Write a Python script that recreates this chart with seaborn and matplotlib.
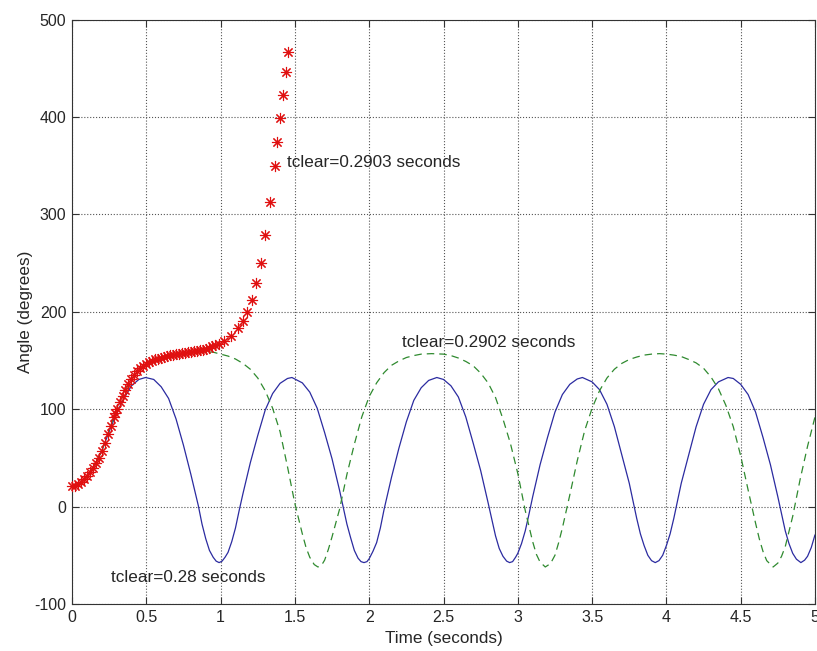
# Rotor angle swing curves for three fault clearing times
import seaborn as sns
import matplotlib
matplotlib.use("Agg")
import matplotlib.pyplot as plt
import pandas as pd

# tclear = 0.28 s (stable, blue solid)
blue_t = [0.0, 0.05, 0.1, 0.15, 0.2, 0.25, 0.3, 0.35, 0.4, 0.45, 0.495, 0.55, 0.6, 0.65, 0.7,
          0.75, 0.8, 0.85, 0.875, 0.9, 0.925, 0.95, 0.97, 0.99, 1.01, 1.03, 1.05, 1.075, 1.1,
          1.125, 1.15, 1.2, 1.25, 1.3, 1.35, 1.4, 1.45,
          1.48, 1.55, 1.6, 1.65, 1.7, 1.75, 1.8, 1.85, 1.875, 1.9, 1.925, 1.945, 1.965, 1.985,
          2.0, 2.025, 2.05, 2.075, 2.1, 2.15, 2.2,
          2.25, 2.3, 2.35, 2.4, 2.455, 2.5, 2.55, 2.6, 2.65, 2.7, 2.75, 2.8, 2.85, 2.875, 2.9,
          2.925, 2.945, 2.965, 2.985, 3.0, 3.025, 3.05, 3.075, 3.1, 3.15, 3.2, 3.25, 3.3, 3.35,
          3.4, 3.435, 3.5, 3.55, 3.6, 3.65, 3.7, 3.75, 3.8, 3.825, 3.85, 3.875, 3.9, 3.925,
          3.95, 3.975, 4.0, 4.025, 4.05, 4.1, 4.15, 4.2, 4.25, 4.3, 4.35, 4.415,
          4.45, 4.5, 4.55, 4.6, 4.65, 4.7, 4.75, 4.8, 4.825, 4.85, 4.875, 4.905, 4.93, 4.95,
          4.975, 5.0]
blue_v = [21, 24, 31, 42, 57, 77, 96, 111, 124, 130.5, 132.5, 130.5, 123, 111, 90,
          63, 33, 1, -18, -33, -45, -52, -56, -57.5, -56, -52, -47, -36, -22,
          -4, 13, 45, 73, 99, 116, 126.5, 131.5,
          132.5, 127, 117.5, 101, 76, 49, 17, -18, -32, -45, -53, -56.5, -57.5, -56.5,
          -53.5, -46, -37, -22, -3, 30, 60,
          87, 109, 122, 129.5, 132.5, 130.5, 124, 112.5, 92, 65, 37, 4, -30, -43, -51,
          -56, -57.5, -56.5, -52, -48, -38, -25, -8, 10, 43, 71, 97, 115, 125.5,
          131, 132.5, 128, 120, 105, 82, 53, 24, -12, -28, -40, -50, -55.5, -57.5,
          -55.5, -50, -40, -28, -12, 24, 53, 82, 105, 120, 128, 132.5,
          131.5, 125.5, 115, 97, 71, 43, 10, -25, -38, -48, -54, -57.5, -55, -51,
          -42, -29]

# tclear = 0.2902 s (marginally stable, green dashed)
green_t = [0.0, 0.05, 0.1, 0.15, 0.2, 0.25, 0.3, 0.35, 0.4, 0.45, 0.5, 0.55, 0.6, 0.65, 0.7,
           0.75, 0.8, 0.85, 0.9, 0.95, 1.0, 1.05, 1.1, 1.15, 1.2, 1.25, 1.3, 1.35, 1.4, 1.45,
           1.5, 1.55, 1.575, 1.6, 1.63, 1.655, 1.68, 1.7, 1.725, 1.75, 1.8, 1.85, 1.9, 1.95,
           2.0, 2.05, 2.1, 2.15, 2.2,
           2.25, 2.3, 2.35, 2.42, 2.5, 2.55, 2.6, 2.65, 2.7, 2.75, 2.8, 2.85, 2.9, 2.95, 3.0,
           3.05, 3.1, 3.125, 3.15, 3.185, 3.22, 3.25, 3.275, 3.3, 3.35, 3.4, 3.45, 3.5, 3.55,
           3.6, 3.65, 3.7, 3.75,
           3.8, 3.85, 3.9, 3.954, 4.0, 4.05, 4.1, 4.15, 4.2, 4.25, 4.3, 4.35, 4.4, 4.45, 4.5,
           4.55, 4.6, 4.625, 4.65, 4.675, 4.718, 4.75, 4.775, 4.8, 4.85, 4.9, 4.95, 5.0]
green_v = [21, 24, 31, 42.5, 57, 78.5, 100, 117, 131, 140.5, 146.5, 150, 153, 155, 156.5,
           157.5, 158.5, 159, 159, 158.5, 156.5, 154.5, 151.5, 147, 141, 132, 119, 101, 77, 41,
           3, -28, -42, -52, -59.5, -62, -60, -55, -44, -31, -3, 33, 64, 92,
           113, 127, 137.5, 145, 149.5,
           153, 155, 156.5, 157, 156.5, 155, 152.5, 149, 144.5, 137, 127, 112, 90, 65, 34,
           -4, -36, -49, -57, -62, -58.5, -50, -37, -22, 12, 47, 78, 101, 119,
           132, 141, 147, 151,
           153.5, 155.5, 156.5, 157, 156.5, 155.5, 154, 151, 147.5, 142, 133, 121, 104, 82, 52,
           17, -17, -33, -46, -55.5, -62, -58, -51, -41, -10, 28, 62, 92]

# tclear = 0.2903 s (unstable, red asterisks)
red_t = [0.0, 0.02, 0.04, 0.06, 0.08, 0.1, 0.12, 0.14, 0.16, 0.18, 0.2, 0.22, 0.24, 0.26,
         0.28, 0.29, 0.3, 0.32, 0.34, 0.36, 0.38, 0.4, 0.42, 0.44, 0.46, 0.48, 0.5, 0.52,
         0.54, 0.56, 0.58, 0.6, 0.62, 0.64, 0.66, 0.68, 0.7, 0.72, 0.74, 0.76, 0.78, 0.8,
         0.82, 0.84, 0.86, 0.88, 0.9, 0.92, 0.94, 0.96, 0.99, 1.024, 1.073, 1.118, 1.15,
         1.18, 1.21, 1.237, 1.27, 1.30, 1.333, 1.364, 1.382, 1.398, 1.42, 1.438, 1.454]
red_v = [21, 21.5, 23, 25, 28, 31, 35, 40, 45, 50, 57, 65, 74, 83,
         92, 96, 100, 107, 114, 120, 126, 131, 135, 139, 142, 144.5, 146.5, 148,
         149.5, 151, 152, 153, 154, 155, 155.5, 156, 156.5, 157, 157.5, 158, 158.5, 159,
         159.5, 160, 160.5, 161, 162, 163, 164.5, 165.5, 167, 169.5, 175, 183, 190.5,
         200, 212.5, 229.5, 250, 278.5, 312.5, 350, 374, 399, 423, 446, 467]

x_ticks = [0, 0.5, 1, 1.5, 2, 2.5, 3, 3.5, 4, 4.5, 5]
x_tick_labels = ["0", "0.5", "1", "1.5", "2", "2.5", "3", "3.5", "4", "4.5", "5"]
y_ticks = [-100, 0, 100, 200, 300, 400, 500]

blue = pd.DataFrame({"t": blue_t, "angle": blue_v})
green = pd.DataFrame({"t": green_t, "angle": green_v})
red = pd.DataFrame({"t": red_t, "angle": red_v})

sns.set_style("ticks")
plt.rcParams["font.family"] = ["Liberation Sans", "DejaVu Sans"]
plt.rcParams["axes.unicode_minus"] = False
plt.rcParams["xtick.direction"] = "in"
plt.rcParams["ytick.direction"] = "in"

fig = plt.figure(figsize=(8.17, 6.51), dpi=100)
ax = fig.add_axes([72 / 817, 1 - 604 / 651, (815 - 72) / 817, (604 - 19.5) / 651])

sns.lineplot(data=blue, x="t", y="angle", ax=ax, sort=False, estimator=None,
             color="#2b2ba0", linewidth=0.9)
sns.lineplot(data=green, x="t", y="angle", ax=ax, sort=False, estimator=None,
             color="#2f8a2f", linewidth=0.9, linestyle=(0, (6, 4)))
sns.lineplot(data=red, x="t", y="angle", ax=ax, sort=False, estimator=None,
             color="red", linestyle="none", marker=(8, 2, 0), markersize=8,
             markeredgewidth=0.8, markeredgecolor="#e01010", clip_on=False, zorder=5)

ax.set_xlim(0, 5)
ax.set_ylim(-100, 500)
ax.set_xticks(x_ticks)
ax.set_xticklabels(x_tick_labels)
ax.set_yticks(y_ticks)
ax.tick_params(labelsize=11.5, length=5, width=0.8, color="#333333",
               top=True, right=True, pad=4)
ax.grid(True, linestyle=":", color="#555555", linewidth=0.8)
for s in ax.spines.values():
    s.set_visible(True)
    s.set_color("#333333")
    s.set_linewidth(0.8)

ax.set_xlabel("Time (seconds)", fontsize=12.3, labelpad=5)
ax.set_ylabel("Angle (degrees)", fontsize=12.3, labelpad=1)

ax.text(0.262, -73, "tclear=0.28 seconds", fontsize=12.3, va="center")
ax.text(2.224, 168, "tclear=0.2902 seconds", fontsize=12.3, va="center")
ax.text(1.445, 353, "tclear=0.2903 seconds", fontsize=12.3, va="center")

fig.savefig("out.png", dpi=100)
